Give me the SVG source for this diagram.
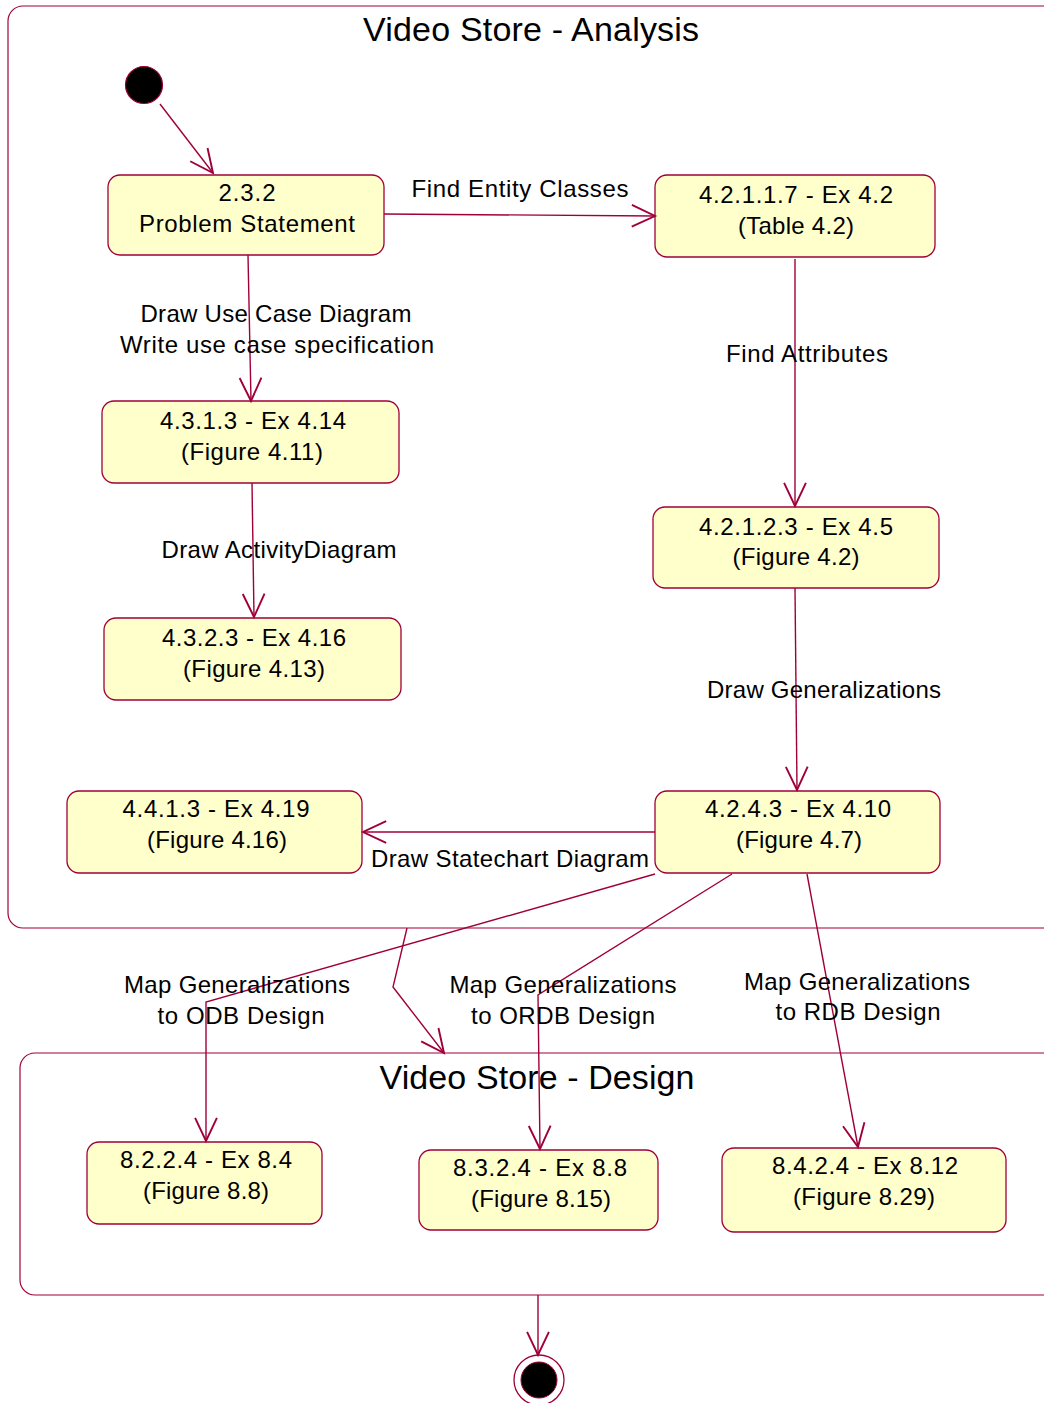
<svg xmlns="http://www.w3.org/2000/svg" width="1044" height="1403" viewBox="0 0 1044 1403">
<style>
.frame{fill:#ffffff;stroke:#a0003a;stroke-width:1.2}
.node rect{fill:#ffffcc;stroke:#a0003a;stroke-width:1.3}
.conn path{fill:none;stroke:#a0003a;stroke-width:1.4;marker-end:url(#arr)}
text{font-family:"Liberation Sans",Arial,sans-serif;fill:#000;text-anchor:middle}
.t{font-size:24px}
.title{font-size:34px}
</style>
<defs>
<marker id="arr" markerUnits="userSpaceOnUse" markerWidth="30" markerHeight="30" refX="0" refY="0" viewBox="-20 -10 22 20" orient="auto" overflow="visible">
<path d="M-17,-8 L0,0 L-17,8" fill="none" stroke="#a0003a" stroke-width="1.4"/>
</marker>
</defs>
<rect width="1044" height="1403" fill="#fff"/>
<g id="analysis">
<rect class="frame" x="8" y="6" width="1060" height="922" rx="15"/>
<text class="title" x="531" y="41" textLength="336" lengthAdjust="spacing">Video Store - Analysis</text>
</g>
<g id="design">
<rect class="frame" x="20" y="1053" width="1050" height="242" rx="15"/>
<text class="title" x="537" y="1089" textLength="315" lengthAdjust="spacing">Video Store - Design</text>
</g>
<g id="initial"><circle cx="144" cy="85" r="18.5" fill="#000" stroke="#a0003a" stroke-width="1.2"/></g>
<g id="final"><circle cx="539" cy="1380" r="25" fill="#fff" stroke="#a0003a" stroke-width="1.3"/><circle cx="539" cy="1380" r="18" fill="#000" stroke="#a0003a" stroke-width="1"/></g>
<g id="n1" class="node"><rect x="108" y="175" width="276" height="80" rx="12"/><text class="t" x="247" y="201" textLength="57" lengthAdjust="spacing">2.3.2</text><text class="t" x="247" y="232" textLength="216" lengthAdjust="spacing">Problem Statement</text></g>
<g id="n2" class="node"><rect x="655" y="175" width="280" height="82" rx="12"/><text class="t" x="796" y="203" textLength="194" lengthAdjust="spacing">4.2.1.1.7 - Ex 4.2</text><text class="t" x="796" y="234" textLength="116" lengthAdjust="spacing">(Table 4.2)</text></g>
<g id="n3" class="node"><rect x="102" y="401" width="297" height="82" rx="12"/><text class="t" x="253" y="429" textLength="186" lengthAdjust="spacing">4.3.1.3 - Ex 4.14</text><text class="t" x="252" y="460" textLength="142" lengthAdjust="spacing">(Figure 4.11)</text></g>
<g id="n4" class="node"><rect x="104" y="618" width="297" height="82" rx="12"/><text class="t" x="254" y="646" textLength="184" lengthAdjust="spacing">4.3.2.3 - Ex 4.16</text><text class="t" x="254" y="677" textLength="142" lengthAdjust="spacing">(Figure 4.13)</text></g>
<g id="n5" class="node"><rect x="653" y="507" width="286" height="81" rx="12"/><text class="t" x="796" y="535" textLength="194" lengthAdjust="spacing">4.2.1.2.3 - Ex 4.5</text><text class="t" x="796" y="565" textLength="127" lengthAdjust="spacing">(Figure 4.2)</text></g>
<g id="n6" class="node"><rect x="67" y="791" width="295" height="82" rx="12"/><text class="t" x="216" y="817" textLength="187" lengthAdjust="spacing">4.4.1.3 - Ex 4.19</text><text class="t" x="217" y="848" textLength="140" lengthAdjust="spacing">(Figure 4.16)</text></g>
<g id="n7" class="node"><rect x="655" y="791" width="285" height="82" rx="12"/><text class="t" x="798" y="817" textLength="186" lengthAdjust="spacing">4.2.4.3 - Ex 4.10</text><text class="t" x="799" y="848" textLength="126" lengthAdjust="spacing">(Figure 4.7)</text></g>
<g id="n8" class="node"><rect x="87" y="1142" width="235" height="82" rx="12"/><text class="t" x="206" y="1168" textLength="172" lengthAdjust="spacing">8.2.2.4 - Ex 8.4</text><text class="t" x="206" y="1199" textLength="126" lengthAdjust="spacing">(Figure 8.8)</text></g>
<g id="n9" class="node"><rect x="419" y="1150" width="239" height="80" rx="12"/><text class="t" x="540" y="1176" textLength="174" lengthAdjust="spacing">8.3.2.4 - Ex 8.8</text><text class="t" x="541" y="1207" textLength="140" lengthAdjust="spacing">(Figure 8.15)</text></g>
<g id="n10" class="node"><rect x="722" y="1148" width="284" height="84" rx="12"/><text class="t" x="865" y="1174" textLength="186" lengthAdjust="spacing">8.4.2.4 - Ex 8.12</text><text class="t" x="864" y="1205" textLength="142" lengthAdjust="spacing">(Figure 8.29)</text></g>
<g id="connectors" class="conn">
<path d="M160,104 L213,173"/>
<path d="M384,214 L655,216"/>
<path d="M248,255 L251,401"/>
<path d="M252,483 L254,617"/>
<path d="M795,259 L795,506"/>
<path d="M795,588 L797,790"/>
<path d="M655,832 L363,832"/>
<path d="M655,874 L206,1002 L206,1141"/>
<path d="M732,874 L538,995 L540,1149"/>
<path d="M807,874 L858,1147"/>
<path d="M407,928 L393,987 L444,1053"/>
<path d="M538,1295 L538,1355"/>
</g>
<g id="labels">
<text class="t" x="520" y="197" textLength="217" lengthAdjust="spacing">Find Entity Classes</text>
<text class="t" x="276" y="322" textLength="271" lengthAdjust="spacing">Draw Use Case Diagram</text>
<text class="t" x="277" y="353" textLength="314" lengthAdjust="spacing">Write use case specification</text>
<text class="t" x="279" y="558" textLength="235" lengthAdjust="spacing">Draw ActivityDiagram</text>
<text class="t" x="807" y="362" textLength="162" lengthAdjust="spacing">Find Attributes</text>
<text class="t" x="824" y="698" textLength="234" lengthAdjust="spacing">Draw Generalizations</text>
<text class="t" x="510" y="867" textLength="278" lengthAdjust="spacing">Draw Statechart Diagram</text>
<text class="t" x="237" y="993" textLength="226" lengthAdjust="spacing">Map Generalizations</text>
<text class="t" x="241" y="1024" textLength="167" lengthAdjust="spacing">to ODB Design</text>
<text class="t" x="563" y="993" textLength="227" lengthAdjust="spacing">Map Generalizations</text>
<text class="t" x="563" y="1024" textLength="184" lengthAdjust="spacing">to ORDB Design</text>
<text class="t" x="857" y="990" textLength="226" lengthAdjust="spacing">Map Generalizations</text>
<text class="t" x="858" y="1020" textLength="165" lengthAdjust="spacing">to RDB Design</text>
</g>
</svg>
